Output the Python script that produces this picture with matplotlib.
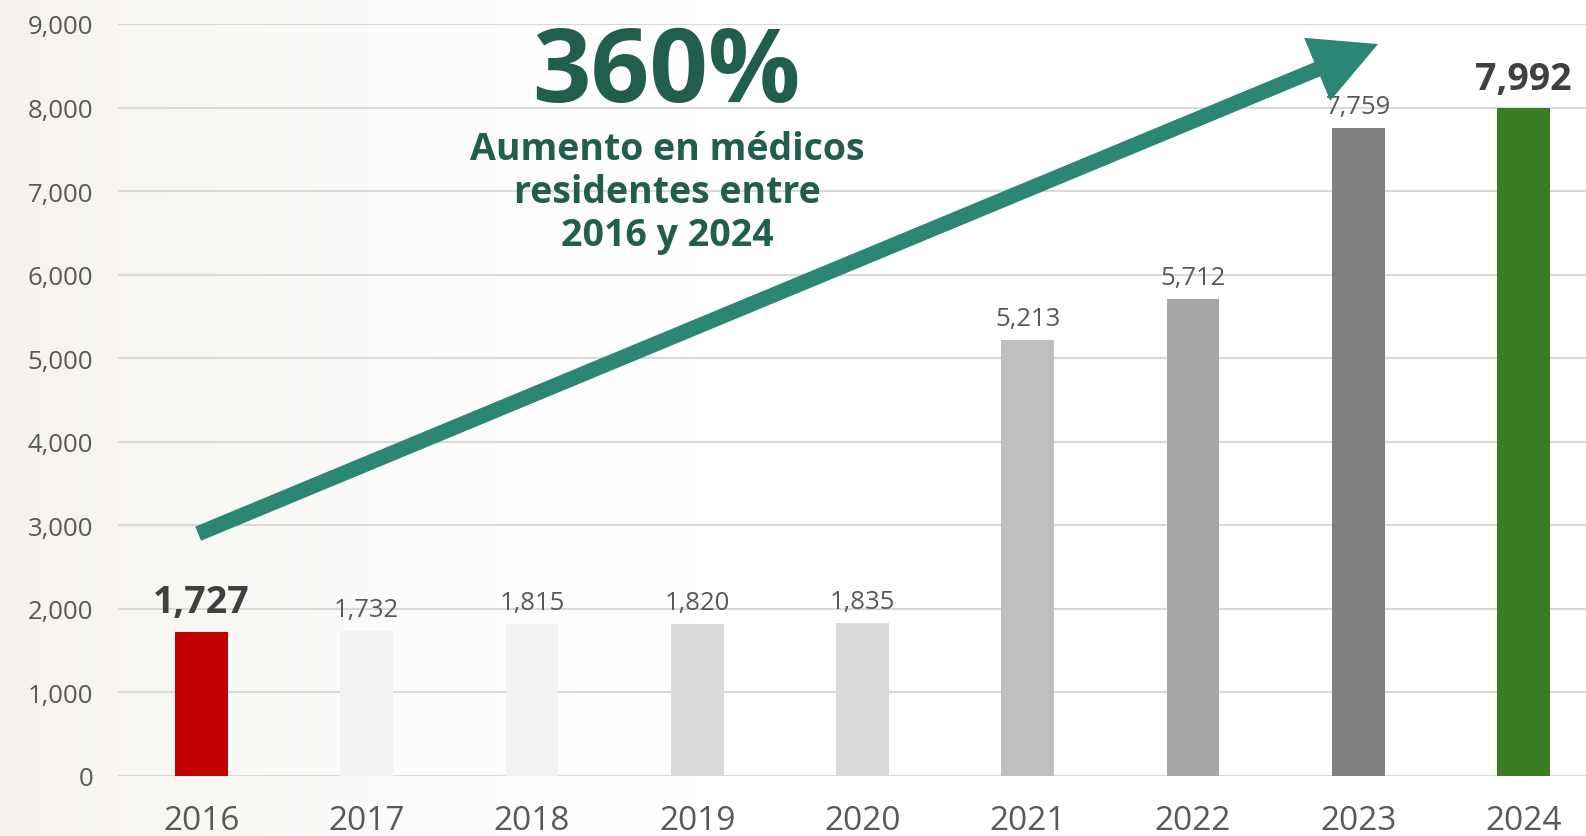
import numpy as np
import matplotlib.pyplot as plt

years = ['2016', '2017', '2018', '2019', '2020', '2021', '2022', '2023', '2024']
residentes = [1727, 1732, 1815, 1820, 1835, 5213, 5712, 7759, 7992]
bar_colors = ['#C00000', '#F2F2F2', '#F2F2F2', '#D9D9D9', '#D9D9D9',
              '#BFBFBF', '#A6A6A6', '#808080', '#3B7D23']
bold_labels = [True, False, False, False, False, False, False, False, True]

plt.rcParams['font.family'] = ['Open Sans', 'DejaVu Sans']

fig = plt.figure(figsize=(15.86, 8.37), dpi=100)
fig.patch.set_facecolor('white')

# faint beige wash on the left, stands in for the background pattern
bg = fig.add_axes([0, 0, 1, 1], zorder=-10)
grad = np.linspace(0, 1, 400)
alpha = np.clip(1 - grad / 0.45, 0, 1) ** 1.5
img = np.ones((2, 400, 4))
img[..., 0] = 0.965
img[..., 1] = 0.953
img[..., 2] = 0.935
img[..., 3] = alpha
bg.imshow(img, aspect='auto', extent=[0, 1, 0, 1])
bg.axis('off')

ax = fig.add_axes([118 / 1586, 60 / 837, 1 - 118 / 1586, 752 / 837])
ax.patch.set_alpha(0)

x = np.arange(len(years))
ax.bar(x, residentes, width=0.32, color=bar_colors, zorder=3)

ax.set_xlim(-0.505, 8.378)
ax.set_ylim(0, 9000)
ax.set_yticks(np.arange(0, 9001, 1000))
ax.set_yticklabels([f'{v:,}' for v in range(0, 9001, 1000)])
ax.set_xticks(x)
ax.set_xticklabels(years)
ax.tick_params(axis='y', length=0, pad=18, labelsize=18.5, labelcolor='#595959')
ax.tick_params(axis='x', length=0, pad=20, labelsize=24, labelcolor='#595959')
ax.grid(axis='y', color='#D9D9D9', linewidth=1.5, zorder=0)
for s in ax.spines.values():
    s.set_visible(False)

for xi, v, b in zip(x, residentes, bold_labels):
    if b:
        ax.text(xi, v + 230, f'{v:,}', ha='center', va='baseline',
                fontsize=27, fontweight='bold', color='#404040')
    else:
        ax.text(xi, v + 180, f'{v:,}', ha='center', va='baseline',
                fontsize=18.5, color='#595959')

# trend arrow
ax.annotate('', xy=(7.12, 8760), xytext=(-0.02, 2900),
            arrowprops=dict(arrowstyle='-|>,head_length=3.0,head_width=1.55',
                            color='#2B8673', lw=11, shrinkA=0, shrinkB=0,
                            capstyle='butt', joinstyle='miter'),
            zorder=4)

fig.text(666 / 1586, 1 - 102 / 837, '360%', ha='center', va='baseline',
         fontsize=74, fontweight='bold', color='#225E4E')
sub = ['Aumento en médicos', 'residentes entre', '2016 y 2024']
for i, line in enumerate(sub):
    fig.text(667 / 1586, 1 - (160 + 43 * i) / 837, line, ha='center',
             va='baseline', fontsize=27, fontweight='bold', color='#225E4E')

fig.savefig('out.png', dpi=100)
